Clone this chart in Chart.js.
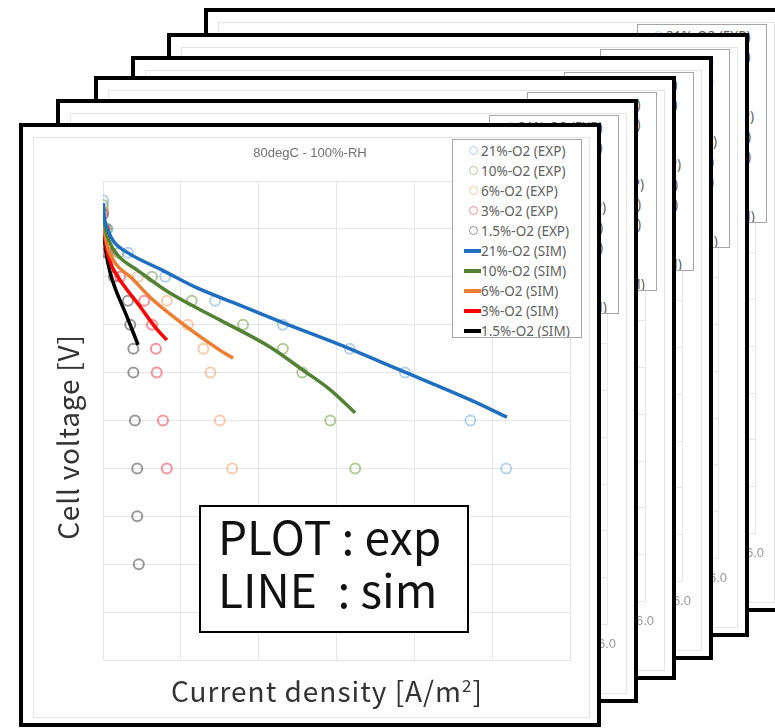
<!DOCTYPE html>
<html>
<head>
<meta charset="utf-8">
<script src="https://cdn.jsdelivr.net/npm/chart.js@4.4.1/dist/chart.umd.min.js"></script>
<style>
  body {
    margin: 0;
    width: 775px;
    height: 728px;
    overflow: hidden;
    background: #fff;
    position: relative;
    font-family: "Noto Sans", sans-serif;
  }
  .frame {
    position: absolute;
    width: 582px;
    height: 604px;
    box-sizing: border-box;
    border: 4px solid #000;
    background: #fff;
  }
  .frame canvas {
    position: absolute;
    left: 0;
    top: 0;
  }
  .chart-area {
    position: absolute;
    left: 10px;
    top: 10px;
    width: 557px;
    height: 581px;
    border: 1px solid #e4e4e4;
    box-sizing: border-box;
  }
  .title {
    position: absolute;
    left: 187px;
    top: 16px;
    width: 200px;
    height: 20px;
    line-height: 20px;
    text-align: center;
    font-family: "Liberation Sans", sans-serif;
    font-size: 13px;
    color: #707070;
    white-space: nowrap;
  }
  .legend {
    position: absolute;
    left: 429px;
    top: 12px;
    width: 130px;
    height: 199px;
    box-sizing: border-box;
    border: 1.5px solid #a6a6a6;
    background: #fff;
    padding-top: 1px;
    overflow: hidden;
  }
  .legend .row {
    height: 20px;
    line-height: 20px;
    font-size: 13.5px;
    color: #606060;
    white-space: nowrap;
    position: relative;
    padding-left: 28px;
  }
  .legend .mark {
    position: absolute;
    top: 50%;
  }
  .axis-y {
    position: absolute;
    left: -106px;
    top: 292px;
    width: 300px;
    height: 36px;
    line-height: 36px;
    text-align: center;
    transform: rotate(-90deg);
    font-family: "Noto Sans CJK JP", sans-serif;
    font-size: 28px;
    letter-spacing: 0.8px;
    color: #333;
    white-space: nowrap;
  }
  .axis-x {
    position: absolute;
    left: 104px;
    top: 545px;
    width: 400px;
    height: 36px;
    line-height: 36px;
    text-align: center;
    font-family: "Noto Sans CJK JP", sans-serif;
    font-size: 28px;
    letter-spacing: 1px;
    color: #333;
    white-space: nowrap;
  }
  .axis-x sup {
    font-size: 17px;
    line-height: 0;
  }
  .note {
    position: absolute;
    left: 176px;
    top: 378px;
    width: 270px;
    height: 128px;
    box-sizing: border-box;
    border: 2px solid #000;
    background: #fff;
    padding: 2px 0 0 17px;
    font-family: "Noto Sans CJK JP", sans-serif;
    font-size: 46px;
    line-height: 53px;
    color: #111;
    white-space: pre;
  }
</style>
</head>
<body>
<script>
  // Series names
  const seriesNames = ["21%-O2", "10%-O2", "6%-O2", "3%-O2", "1.5%-O2"];

  // Experimental points: current density / cell voltage
  const exp21I = [0, 0.06, 0.32, 0.8, 1.44, 2.31, 3.17, 3.88, 4.72, 5.18];
  const exp21V = [0.96, 0.9, 0.85, 0.8, 0.75, 0.7, 0.65, 0.6, 0.5, 0.4];
  const exp10I = [0, 0.05, 0.2, 0.63, 1.14, 1.8, 2.31, 2.56, 2.92, 3.24];
  const exp10V = [0.95, 0.9, 0.85, 0.8, 0.75, 0.7, 0.65, 0.6, 0.5, 0.4];
  const exp6I = [0, 0.03, 0.1, 0.45, 0.82, 1.09, 1.29, 1.38, 1.5, 1.66];
  const exp6V = [0.94, 0.9, 0.85, 0.8, 0.75, 0.7, 0.65, 0.6, 0.5, 0.4];
  const exp3I = [0, 0.02, 0.07, 0.22, 0.53, 0.63, 0.68, 0.69, 0.77, 0.82];
  const exp3V = [0.935, 0.9, 0.85, 0.8, 0.75, 0.7, 0.65, 0.6, 0.5, 0.4];
  const exp15I = [0, 0.02, 0.05, 0.14, 0.32, 0.35, 0.39, 0.39, 0.41, 0.44, 0.44, 0.46];
  const exp15V = [0.93, 0.9, 0.85, 0.8, 0.75, 0.7, 0.65, 0.6, 0.5, 0.4, 0.3, 0.2];

  // Simulation curves
  const sim21I = [0, 0.02, 0.06, 0.14, 0.32, 0.76, 1.18, 1.66, 2.3, 2.97, 3.82, 4.72, 5.19];
  const sim21V = [0.954, 0.92, 0.898, 0.873, 0.85, 0.814, 0.779, 0.747, 0.705, 0.663, 0.605, 0.543, 0.507];
  const sim10I = [0, 0.02, 0.09, 0.2, 0.44, 0.86, 1.5, 2.15, 2.57, 2.92, 3.24];
  const sim10V = [0.95, 0.912, 0.871, 0.843, 0.814, 0.766, 0.71, 0.653, 0.605, 0.564, 0.516];
  const sim6I = [0, 0.015, 0.06, 0.16, 0.35, 0.64, 1.08, 1.5, 1.67];
  const sim6V = [0.944, 0.905, 0.862, 0.828, 0.8, 0.752, 0.695, 0.647, 0.63];
  const sim3I = [0, 0.012, 0.05, 0.12, 0.22, 0.48, 0.67, 0.82];
  const sim3V = [0.935, 0.9, 0.856, 0.82, 0.793, 0.737, 0.695, 0.668];
  const sim15I = [0, 0.01, 0.04, 0.09, 0.15, 0.31, 0.45];
  const sim15V = [0.929, 0.895, 0.85, 0.81, 0.779, 0.716, 0.658];

  // Axis ranges
  const xMin = 0, xMax = 6, xStep = 1;
  const yMin = 0, yMax = 1, yStep = 0.1;

  const expI = [exp21I, exp10I, exp6I, exp3I, exp15I];
  const expV = [exp21V, exp10V, exp6V, exp3V, exp15V];
  const simI = [sim21I, sim10I, sim6I, sim3I, sim15I];
  const simV = [sim21V, sim10V, sim6V, sim3V, sim15V];

  const expColors = [
    "rgba(91,155,213,0.45)",
    "rgba(112,160,71,0.55)",
    "rgba(237,125,49,0.4)",
    "rgba(240,40,60,0.5)",
    "rgba(0,0,0,0.4)",
  ];
  const simColors = ["#1f6fc0", "#548235", "#ed7d31", "#ff0000", "#000000"];

  // Frame positions, back to front
  const frameLeft = [204, 167, 131, 94, 56, 19];
  const frameTop = [8, 33, 56, 76, 99, 123];

  function toPoints(xs, ys) {
    return xs.map((x, i) => ({ x: x, y: ys[i] }));
  }

  function buildDatasets() {
    const sets = [];
    seriesNames.forEach((name, i) => {
      sets.push({
        label: name + " (EXP)",
        data: toPoints(expI[i], expV[i]),
        showLine: false,
        pointStyle: "circle",
        pointRadius: 5,
        pointBorderWidth: 2,
        pointBorderColor: expColors[i],
        pointBackgroundColor: "rgba(0,0,0,0)",
        order: 2,
      });
    });
    seriesNames.forEach((name, i) => {
      sets.push({
        label: name + " (SIM)",
        data: toPoints(simI[i], simV[i]),
        showLine: true,
        borderColor: simColors[i],
        borderWidth: 3.5,
        cubicInterpolationMode: "monotone",
        pointRadius: 0,
        order: 1,
      });
    });
    return sets;
  }

  function buildLegend(frame) {
    const legend = document.createElement("div");
    legend.className = "legend";
    seriesNames.forEach((name, i) => {
      const row = document.createElement("div");
      row.className = "row";
      row.innerHTML =
        '<span class="mark" style="left:16px;width:7px;height:7px;margin-top:-5px;border:1.5px solid ' +
        expColors[i] + ';border-radius:50%"></span>' + name + " (EXP)";
      legend.appendChild(row);
    });
    seriesNames.forEach((name, i) => {
      const row = document.createElement("div");
      row.className = "row";
      row.innerHTML =
        '<span class="mark" style="left:11px;width:17px;height:3.5px;margin-top:-2px;background:' +
        simColors[i] + '"></span>' + name + " (SIM)";
      legend.appendChild(row);
    });
    frame.appendChild(legend);
  }

  function buildFrame(k) {
    const front = k === frameLeft.length - 1;
    const frame = document.createElement("div");
    frame.className = "frame";
    frame.style.left = frameLeft[k] + "px";
    frame.style.top = frameTop[k] + "px";
    document.body.appendChild(frame);

    const area = document.createElement("div");
    area.className = "chart-area";
    frame.appendChild(area);

    const canvas = document.createElement("canvas");
    canvas.width = 574;
    canvas.height = 596;
    frame.appendChild(canvas);

    const title = document.createElement("div");
    title.className = "title";
    title.textContent = "80degC - 100%-RH";
    frame.appendChild(title);

    new Chart(canvas, {
      type: "scatter",
      data: { datasets: buildDatasets() },
      options: {
        responsive: false,
        animation: false,
        layout: {
          padding: { left: 80, right: 27, top: 54, bottom: front ? 63 : 35 },
        },
        scales: {
          x: {
            type: "linear",
            min: xMin,
            max: xMax,
            ticks: {
              display: !front,
              stepSize: xStep,
              padding: 12,
              color: "#9a9a9a",
              font: { family: "Liberation Sans", size: 13 },
              callback: (v) => v.toFixed(1),
            },
            grid: { color: "#e6e6e6", drawTicks: false },
            border: { color: "#e6e6e6" },
          },
          y: {
            min: yMin,
            max: yMax,
            ticks: { display: false, stepSize: yStep },
            grid: { color: "#e6e6e6", drawTicks: false },
            border: { color: "#e6e6e6" },
          },
        },
        plugins: {
          legend: { display: false },
          tooltip: { enabled: false },
        },
      },
    });

    buildLegend(frame);

    if (front) {
      const yTitle = document.createElement("div");
      yTitle.className = "axis-y";
      yTitle.textContent = "Cell voltage [V]";
      frame.appendChild(yTitle);

      const xTitle = document.createElement("div");
      xTitle.className = "axis-x";
      xTitle.innerHTML = "Current density [A/m<sup>2</sup>]";
      frame.appendChild(xTitle);

      const note = document.createElement("div");
      note.className = "note";
      note.textContent = "PLOT : exp\nLINE  : sim";
      frame.appendChild(note);
    }
  }

  for (let k = 0; k < frameLeft.length; k++) {
    buildFrame(k);
  }
</script>
</body>
</html>
